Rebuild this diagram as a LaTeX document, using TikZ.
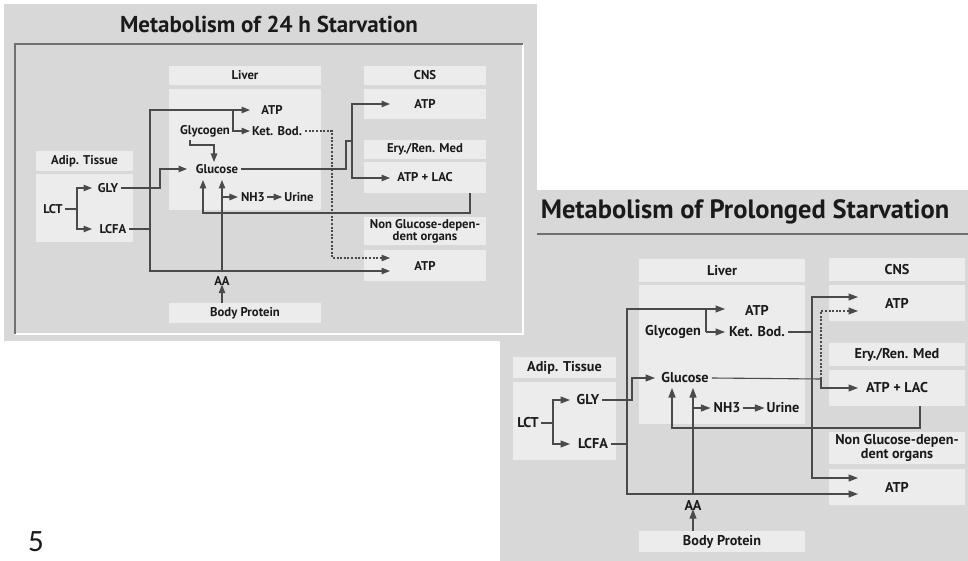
\documentclass[tikz,border=0pt]{standalone}
\usepackage{fontspec}
\usepackage{graphicx}
\setmainfont{PT Sans}
\newfontfamily\carl{Carlito}
\usetikzlibrary{arrows.meta}

\definecolor{panelgray}{HTML}{D8D8D8}
\definecolor{boxgray}{HTML}{ECECEC}
\definecolor{linegray}{HTML}{4A4A4A}
\definecolor{ink}{HTML}{1A1A1A}
\definecolor{ruleg}{HTML}{707070}

\begin{document}
\begin{tikzpicture}[x=1pt,y=-1pt,
  boxL/.style={fill=boxgray,draw=none,inner sep=0pt,text=ink,font=\bfseries\fontsize{12.7}{12.7}\selectfont,align=center},
  boxR/.style={fill=boxgray,draw=none,inner sep=0pt,text=ink,font=\bfseries\fontsize{14.2}{14.2}\selectfont,align=center},
  txtL/.style={inner sep=0pt,text=ink,font=\bfseries\fontsize{12.7}{12.7}\selectfont},
  txtR/.style={inner sep=0pt,text=ink,font=\bfseries\fontsize{14.2}{14.2}\selectfont},
  conn/.style={draw=linegray,line width=1.1pt},
  arrL/.style={conn,-{Triangle[length=8.5pt,width=6.5pt]}},
  arrR/.style={conn,-{Triangle[length=9.5pt,width=7pt]}},
  dotl/.style={dash pattern=on 2pt off 1.6pt}
]
\useasboundingbox (0,0) rectangle (968,561);
\fill[white] (0,0) rectangle (968,561);

% ================= RIGHT PANEL (behind) =================
\fill[panelgray] (500,190) rectangle (968,561);
\draw[ruleg,line width=1.8pt] (500,234) -- (968,234);
\node[inner sep=0pt,text=ink,font=\bfseries\fontsize{26.5}{26.5}\selectfont] (rtitle) at (745,212) {Metabolism of Prolonged Starvation};

\node[boxR,minimum width=166pt,minimum height=23pt] (rliverh) at (722,270.5) {Liver};
\node[boxR,minimum width=166pt,minimum height=139pt] (rliverb) at (722,354.5) {};
\node[boxR,minimum width=103pt,minimum height=21pt] (radiph) at (564.5,367.5) {Adip. Tissue};
\node[boxR,minimum width=103pt,minimum height=78pt] (radipb) at (564.5,421) {};
\node[boxR,minimum width=136pt,minimum height=23pt] (rcnsh) at (897,269.5) {CNS};
\node[boxR,minimum width=136pt,minimum height=36pt] (rcnsb) at (897,303) {ATP};
\node[boxR,minimum width=136pt,minimum height=23pt] (reryh) at (897,354.5) {Ery./Ren. Med};
\node[boxR,minimum width=136pt,minimum height=36pt] (reryb) at (897,388) {ATP + LAC};
\node[boxR,minimum width=136pt,minimum height=32pt] (rngh) at (897,448) {Non Glucose-depen-\\[-1pt]dent organs};
\node[boxR,minimum width=136pt,minimum height=36pt] (rngb) at (897,487) {ATP};
\node[boxR,minimum width=166pt,minimum height=21pt] (rbph) at (722,541.5) {Body Protein};

\node[txtR] (ratp) at (757,310) {ATP};
\node[txtR] (rglycogen) at (673,332) {Glycogen};
\node[txtR] (rketbod) at (757,332) {Ket. Bod.};
\node[txtR] (rglucose) at (685,378) {Glucose};
\node[txtR] (rnh3) at (727,408) {NH3};
\node[txtR] (rurine) at (783,408) {Urine};
\node[txtR] (rgly) at (588,400) {GLY};
\node[txtR] (rlct) at (528,423) {LCT};
\node[txtR] (rlcfa) at (593,444) {LCFA};
\node[txtR] (raa) at (693,505) {AA};

\draw[conn] ([xshift=2pt]rlct.east) -- (553,423);
\draw[arrR] (553,423) |- (570,400);
\draw[arrR] (553,423) |- (570,444);
\draw[arrR] ([xshift=3pt]rgly.east) -- (632,400) -- (632,378) -- (655,378);
\draw[conn] ([xshift=3pt]rlcfa.east) -- (627,444);
\draw[arrR] (627,444) |- (725,309);
\draw[arrR] (627,444) |- (858,494);
\draw[conn] (706,309) -- (706,332);
\draw[arrR] (706,332) -- (725,332);
\draw[conn] ([xshift=3pt]rketbod.east) -- (812,332);
\draw[arrR] (812,332) |- (858,297);
\draw[arrR] (812,332) |- (858,478);
\draw[conn] ([xshift=3pt]rglucose.east) -- (821,379);
\draw[arrR,dotl] (821,379) |- (858,311);
\draw[arrR] (821,379) |- (858,388);
\draw[arrR] ([xshift=23pt]reryb.south) -- (920,428) -- (672,428) -- (672,388);
\draw[arrR] (693,494) -- (693,388);
\draw[arrR] (693,408) -- ([xshift=-3pt]rnh3.west);
\draw[arrR] ([xshift=2pt]rnh3.east) -- ([xshift=-2pt]rurine.west);
\draw[arrR] (raa.south |- rbph.north) -- ([yshift=1pt]raa.south);

% ================= LEFT PANEL (front) =================
\fill[panelgray] (4,4) rectangle (537,341);
\draw[white,line width=1.6pt] (523,44) -- (523,334) -- (15,334);
\draw[ruleg,line width=1.6pt] (15,334) -- (15,44) -- (523,44);
\node[inner sep=0pt,text=ink,font=\bfseries\fontsize{23}{23}\selectfont] (ltitle) at (269,24) {Metabolism of 24 h Starvation};

\node[boxL,minimum width=152pt,minimum height=19pt] (liverh) at (245,75.5) {Liver};
\node[boxL,minimum width=152pt,minimum height=121pt] (liverb) at (245,149.5) {};
\node[boxL,minimum width=97pt,minimum height=20pt] (adiph) at (84.5,161) {Adip. Tissue};
\node[boxL,minimum width=97pt,minimum height=68pt] (adipb) at (84.5,208) {};
\node[boxL,minimum width=122pt,minimum height=19pt] (cnsh) at (425,75.5) {CNS};
\node[boxL,minimum width=122pt,minimum height=30pt] (cnsb) at (425,104) {ATP};
\node[boxL,minimum width=122pt,minimum height=19pt] (eryh) at (425,149.5) {Ery./Ren. Med};
\node[boxL,minimum width=122pt,minimum height=31pt] (eryb) at (425,177.5) {ATP + LAC};
\node[boxL,minimum width=122pt,minimum height=28pt] (ngh) at (425,231) {Non Glucose-depen-\\[-1pt]dent organs};
\node[boxL,minimum width=122pt,minimum height=31pt] (ngb) at (425,265.5) {ATP};
\node[boxL,minimum width=152pt,minimum height=20pt] (bph) at (245,313) {Body Protein};

\node[txtL] (latp) at (272,110) {ATP};
\node[txtL] (glycogen) at (205,131) {Glycogen};
\node[txtL] (ketbod) at (277,131) {Ket. Bod.};
\node[txtL] (glucose) at (217,169) {Glucose};
\node[txtL] (nh3) at (253,197) {NH3};
\node[txtL] (urine) at (299,197) {Urine};
\node[txtL] (gly) at (108,188) {GLY};
\node[txtL] (lct) at (53,209) {LCT};
\node[txtL] (lcfa) at (113,229) {LCFA};
\node[txtL] (aa) at (222,281) {AA};

\draw[conn] ([xshift=2pt]lct.east) -- (77,209);
\draw[arrL] (77,209) |- (92,188);
\draw[arrL] (77,209) |- (92,229);
\draw[arrL] ([xshift=3pt]gly.east) -- (160,188) -- (160,169) -- (187,169);
\draw[conn] ([xshift=3pt]lcfa.east) -- (150,229);
\draw[arrL] (150,229) |- (250,110);
\draw[arrL] (150,229) |- (390,271);
\draw[conn] (233,110) -- (233,131);
\draw[conn] ([xshift=2pt]glycogen.east) -- (233,131);
\draw[arrL] (233,131) -- (250,131);
\draw[arrL] (190,140) -- (190,145) -- (214,145) -- (214,162);
\draw[arrL,dotl] ([xshift=3pt]ketbod.east) -- (332,131) -- (332,258) -- (390,258);
\draw[conn] ([xshift=3pt]glucose.east) -- (346,169) -- (346,141) -- (352,141);
\draw[arrL] (352,141) |- (390,104);
\draw[arrL] (352,141) |- (390,178);
\draw[arrL] ([xshift=45pt]eryb.south) -- (470,213) -- (203,213) -- (203,180);
\draw[arrL] (222,271) -- (222,180);
\draw[arrL] (222,197) -- ([xshift=-3pt]nh3.west);
\draw[arrL] ([xshift=2pt]nh3.east) -- ([xshift=-2pt]urine.west);
\draw[arrL] (aa.south |- bph.north) -- ([yshift=1pt]aa.south);

% page number
\node[inner sep=0pt,text=ink,font=\carl\fontsize{31}{31}\selectfont] (pnum) at (36,542) {5};
\end{tikzpicture}
\end{document}
